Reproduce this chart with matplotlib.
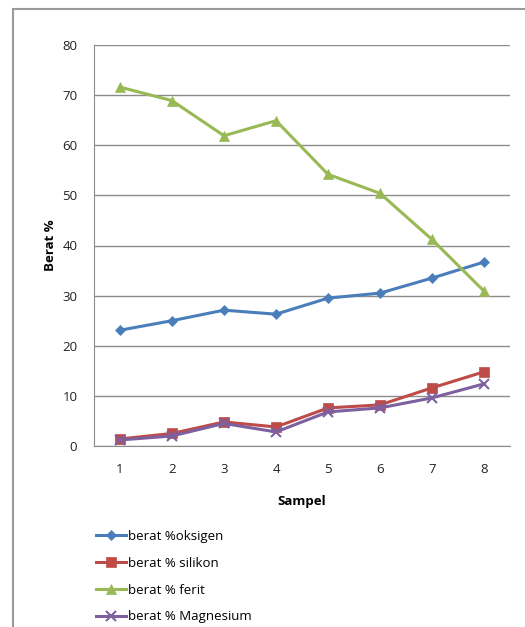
import numpy as np
import matplotlib
matplotlib.use("Agg")
import matplotlib.pyplot as plt
from matplotlib.patches import Rectangle

sampel = [1, 2, 3, 4, 5, 6, 7, 8]
oksigen = [23.1, 25.0, 27.1, 26.3, 29.5, 30.5, 33.5, 36.7]
silikon = [1.4, 2.5, 4.8, 3.8, 7.6, 8.2, 11.6, 14.8]
ferit = [71.6, 68.9, 61.9, 64.9, 54.2, 50.4, 41.2, 30.9]
magnesium = [1.2, 2.0, 4.5, 2.8, 6.8, 7.6, 9.6, 12.4]

labels = ["berat %oksigen", "berat % silikon", "berat % ferit", "berat % Magnesium"]
colors = ["#4A7EBB", "#BE4B48", "#98B954", "#7D60A0"]
markers = ["D", "s", "^", "x"]
msizes = [5, 6.5, 7, 7]

plt.rcParams['font.family'] = ['Open Sans', 'DejaVu Sans']

fig = plt.figure(figsize=(5.25, 6.27), dpi=100)
W, H = 525, 627

# outer chart frame (right and bottom run past the figure edge)
fig.patches.append(Rectangle((13 / W, -0.05), 1.2, 1 - 9 / H + 0.05,
                             transform=fig.transFigure, fill=False,
                             edgecolor="#9a9a9a", lw=1.5))

ax = fig.add_axes([94 / W, 1 - 446 / H, (510 - 94) / W, (446 - 45) / H])

series = [oksigen, silikon, ferit, magnesium]
for vals, lab, col, mk, ms in zip(series, labels, colors, markers, msizes):
    ax.plot(sampel, vals, color=col, lw=2.2, marker=mk, markersize=ms,
            markeredgewidth=1.5 if mk == "x" else 0.5, markeredgecolor=col,
            label=lab)

ax.set_xlim(0.5, 8.5)
ax.set_ylim(0, 80)
ax.set_yticks(np.arange(0, 81, 10))
ax.set_xticks(sampel)
ax.grid(axis="y", color="#8c8c8c", lw=1)
ax.set_axisbelow(True)
for s in ["top", "right"]:
    ax.spines[s].set_visible(False)
ax.spines["left"].set_color("#8c8c8c")
ax.spines["bottom"].set_color("#8c8c8c")
ax.tick_params(length=0, labelsize=9.5, colors="#222222")
ax.tick_params(axis="y", pad=12)
ax.tick_params(axis="x", pad=12)

ax.set_xlabel("Sampel", fontsize=9.5, fontweight="bold", labelpad=14)
ax.set_ylabel("Berat %", fontsize=9.5, fontweight="bold", labelpad=4)

handles, labs = ax.get_legend_handles_labels()
fig.legend(handles, labs, loc="upper left",
           bbox_to_anchor=(84 / W, 1 - 518 / H), frameon=False,
           fontsize=9.5, handlelength=2.3, handletextpad=0.15,
           labelspacing=1.05)

fig.savefig("out.png", dpi=100)
